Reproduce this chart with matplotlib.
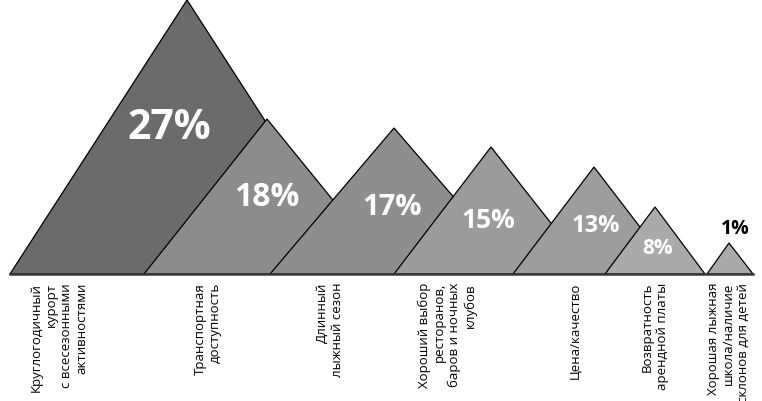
import matplotlib
matplotlib.use('Agg')
import matplotlib.pyplot as plt
from matplotlib.patches import Polygon

plt.rcParams['font.family'] = ['Open Sans', 'DejaVu Sans']

# данные
categories = [
    'Круглогодичный\nкурорт\nс всесезонными\nактивностями',
    'Транспортная\nдоступность',
    'Длинный\nлыжный сезон',
    'Хороший выбор\nресторанов,\nбаров и ночных\nклубов',
    'Цена/качество',
    'Возвратность\nарендной платы',
    'Хорошая лыжная\nшкола/наличие\nсклонов для детей',
]
percents = [27, 18, 17, 15, 13, 8, 1]
# высота вершин, как на картинке (px над базой)
peak_heights = [274, 155, 146, 127, 107, 67, 31]

# раскладка
base_y = 275
base_left = [10, 144, 270, 394, 513, 605, 707]
base_right = [364, 393, 520, 591, 676, 705, 753]
apex_x = [187, 267, 394, 491, 594, 655, 729]
colors = ['#6b6b6b', '#8c8c8c', '#8e8e8e', '#9b9b9b', '#9d9d9d', '#aaaaaa', '#aaaaaa']
pct_pos = [(169, 139), (267, 206), (392, 215), (488, 228), (596, 232), (658, 254), (735, 234)]
pct_size = [29.5, 23, 21, 19, 17, 15, 14]
pct_color = ['white'] * 6 + ['black']
label_x = [59, 208, 330, 447, 575, 655, 728]

fig = plt.figure(figsize=(7.62, 4.02), dpi=100)
ax = fig.add_axes([0, 0, 1, 1])
ax.set_xlim(0, 762)
ax.set_ylim(402, 0)
ax.axis('off')

for i in range(len(percents)):
    pts = [(base_left[i], base_y), (apex_x[i], base_y - peak_heights[i]), (base_right[i], base_y)]
    ax.add_patch(Polygon(pts, closed=True, facecolor=colors[i], edgecolor='black', linewidth=0.9, zorder=2 + i))
    x, y = pct_pos[i]
    ax.text(x, y, f'{percents[i]}%', color=pct_color[i], fontsize=pct_size[i], fontweight='bold',
            ha='center', va='baseline', zorder=20)
    ax.text(label_x[i], 283, categories[i], rotation=90, ha='center', va='top',
            multialignment='right', fontsize=9.5, linespacing=1.2, zorder=20)

ax.plot([base_left[0], base_right[-1]], [base_y, base_y], color='#3a3a3a', linewidth=1.8, zorder=15)

plt.savefig('out.png', dpi=100)
plt.close()
